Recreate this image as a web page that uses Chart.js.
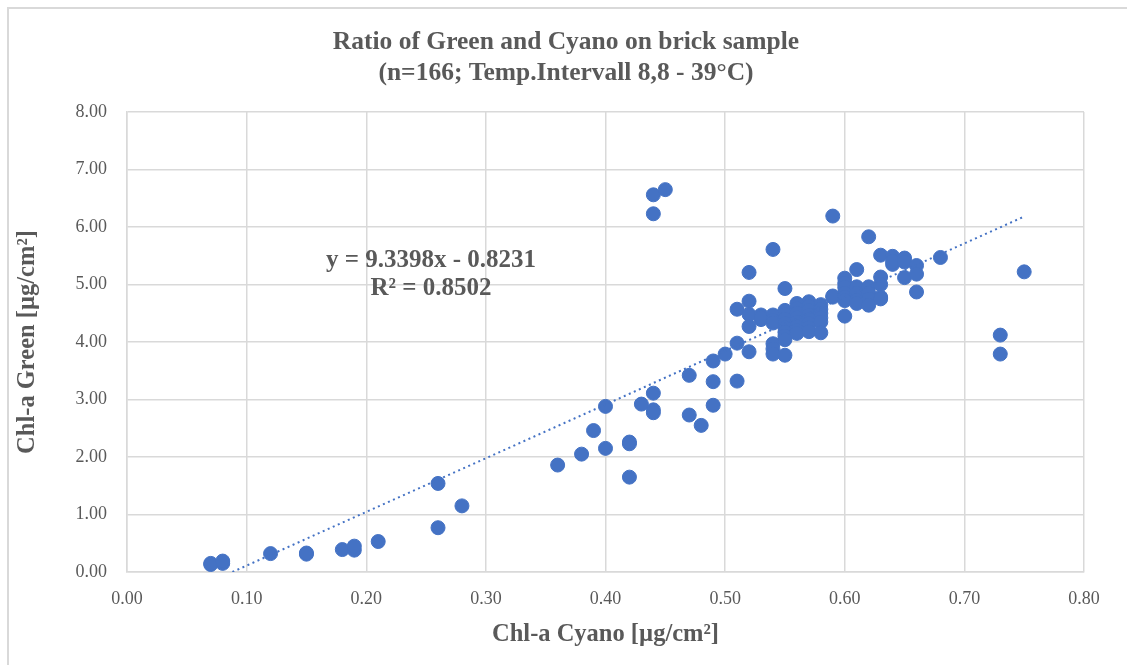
<!DOCTYPE html>
<html>
<head>
<meta charset="utf-8">
<script src="https://cdn.jsdelivr.net/npm/chart.js@4"></script>
<style>
  body { margin: 0; background: #fff; overflow: hidden; }
  .frame { position: absolute; left: 7px; top: 7px; width: 1200px; height: 700px; border-left: 2px solid #d9d9d9; border-top: 2px solid #d9d9d9; }
  #wrap { position: absolute; left: 0; top: 0; width: 1127px; height: 665px; }
</style>
</head>
<body>
<div class="frame"></div>
<div id="wrap"><canvas id="grafico" width="1127" height="665"></canvas></div>
<script>
// ======== DADOS ========
const cyano = [
  0.07, 0.07, 0.08, 0.08, 0.12, 0.15, 0.15, 0.18, 0.19, 0.19, 0.21,
  0.26, 0.26, 0.28, 0.36, 0.38, 0.39, 0.40, 0.40, 0.42, 0.42, 0.42, 0.43,
  0.44, 0.44, 0.44, 0.44, 0.44, 0.45, 0.47, 0.47, 0.48, 0.49, 0.49, 0.49, 0.50,
  0.51, 0.51, 0.51, 0.52, 0.52, 0.52, 0.52, 0.52, 0.53, 0.53, 0.53,
  0.54, 0.54, 0.54, 0.54, 0.54, 0.54, 0.54,
  0.55, 0.55, 0.55, 0.55, 0.55, 0.55, 0.55, 0.55, 0.55, 0.55,
  0.56, 0.56, 0.56, 0.56, 0.56, 0.56, 0.56, 0.56,
  0.57, 0.57, 0.57, 0.57, 0.57, 0.57, 0.57, 0.57,
  0.58, 0.58, 0.58, 0.58, 0.58, 0.58,
  0.59, 0.59, 0.59,
  0.60, 0.60, 0.60, 0.60, 0.60, 0.60, 0.60,
  0.61, 0.61, 0.61, 0.61, 0.61,
  0.62, 0.62, 0.62, 0.62, 0.62,
  0.63, 0.63, 0.63, 0.63, 0.63,
  0.64, 0.64, 0.64, 0.65, 0.65, 0.65, 0.66, 0.66, 0.66,
  0.68, 0.73, 0.73, 0.75
];
const green = [
  0.13, 0.15, 0.15, 0.19, 0.32, 0.31, 0.33, 0.39, 0.38, 0.45, 0.53,
  1.54, 0.77, 1.15, 1.86, 2.05, 2.46, 2.88, 2.15, 2.23, 2.26, 1.65, 2.92,
  3.11, 2.82, 2.77, 6.56, 6.23, 6.65, 3.42, 2.73, 2.55, 3.67, 3.31, 2.90, 3.79,
  4.57, 3.98, 3.32, 5.21, 4.71, 4.48, 4.27, 3.83, 4.47, 4.39, 4.42,
  5.61, 4.47, 4.38, 4.33, 3.97, 3.88, 3.79,
  4.93, 4.55, 4.48, 4.40, 4.32, 4.25, 4.17, 4.10, 4.04, 3.77,
  4.67, 4.58, 4.50, 4.42, 4.35, 4.27, 4.20, 4.15,
  4.70, 4.62, 4.55, 4.47, 4.40, 4.32, 4.25, 4.18,
  4.65, 4.57, 4.50, 4.42, 4.35, 4.16,
  6.19, 4.78, 4.80,
  5.11, 5.02, 4.95, 4.85, 4.78, 4.72, 4.45,
  5.26, 4.96, 4.85, 4.72, 4.67,
  5.83, 4.96, 4.85, 4.75, 4.64,
  5.51, 5.13, 5.00, 4.78, 4.75,
  5.49, 5.35, 5.40, 5.46, 5.39, 5.12, 5.33, 5.18, 4.87,
  5.47, 4.12, 3.79, 5.22
];

// linha de tendência (Excel): y = 9.3398x - 0.8231
const inclinacao = 9.3398;
const intercepto = -0.8231;
const rQuadrado = 0.8502;
const xMaxTendencia = 0.75;

const titulo = ['Ratio of Green and Cyano on brick sample', '(n=166; Temp.Intervall 8,8 - 39°C)'];
const tituloX = 'Chl-a Cyano [µg/cm²]';
const tituloY = 'Chl-a Green [µg/cm²]';

// ======== MONTAGEM ========
const pontos = cyano.map((c, i) => ({ x: c, y: green[i] }));
const xZero = -intercepto / inclinacao;
const tendencia = [
  { x: xZero, y: 0 },
  { x: xMaxTendencia, y: inclinacao * xMaxTendencia + intercepto }
];

const cinza = '#595959';
const serif = '"Liberation Serif", "Times New Roman", serif';

const textos = {
  id: 'textos',
  afterDraw(chart) {
    const ctx = chart.ctx;
    ctx.save();
    ctx.fillStyle = cinza;
    ctx.textAlign = 'center';
    ctx.textBaseline = 'middle';
    ctx.font = 'bold 25.5px ' + serif;
    ctx.fillText(titulo[0], 566, 42);
    ctx.fillText(titulo[1], 566, 73);
    ctx.font = 'bold 25px ' + serif;
    ctx.fillText(`y = ${inclinacao}x - ${Math.abs(intercepto)}`, 431, 261);
    ctx.fillText(`R² = ${rQuadrado}`, 431, 289);
    ctx.restore();
  }
};

new Chart(document.getElementById('grafico'), {
  type: 'scatter',
  data: {
    datasets: [
      {
        label: 'Green vs Cyano',
        data: pontos,
        backgroundColor: '#4472C4',
        borderColor: '#4472C4',
        pointRadius: 7,
        pointHoverRadius: 7,
        order: 2
      },
      {
        type: 'line',
        label: 'Tendência',
        data: tendencia,
        borderColor: '#4472C4',
        borderWidth: 2,
        borderDash: [2, 3.5],
        pointRadius: 0,
        fill: false,
        order: 1
      }
    ]
  },
  options: {
    responsive: false,
    animation: false,
    layout: { padding: { top: 112, right: 43, left: 0, bottom: 0 } },
    plugins: { legend: { display: false }, tooltip: { enabled: false } },
    scales: {
      x: {
        type: 'linear',
        min: 0, max: 0.8,
        afterFit: s => { s.height = 93; },
        ticks: {
          stepSize: 0.1, padding: 16, color: cinza,
          font: { family: serif, size: 18 },
          callback: v => v.toFixed(2)
        },
        grid: { color: '#d9d9d9', drawTicks: false, lineWidth: 1.5 },
        border: { color: '#d9d9d9', width: 1.5 },
        title: {
          display: true, text: tituloX, color: cinza,
          font: { family: serif, size: 24.5, weight: 'bold' },
          padding: { top: 4, bottom: 16 }
        }
      },
      y: {
        min: 0, max: 8,
        afterFit: s => { s.width = 127; },
        ticks: {
          stepSize: 1, padding: 20, color: cinza,
          font: { family: serif, size: 18 },
          callback: v => v.toFixed(2)
        },
        grid: { color: '#d9d9d9', drawTicks: false, lineWidth: 1.5 },
        border: { color: '#d9d9d9', width: 1.5 },
        title: {
          display: true, text: tituloY, color: cinza,
          font: { family: serif, size: 24.5, weight: 'bold' },
          padding: { top: 13, bottom: 4 }
        }
      }
    }
  },
  plugins: [textos]
});
</script>
</body>
</html>
